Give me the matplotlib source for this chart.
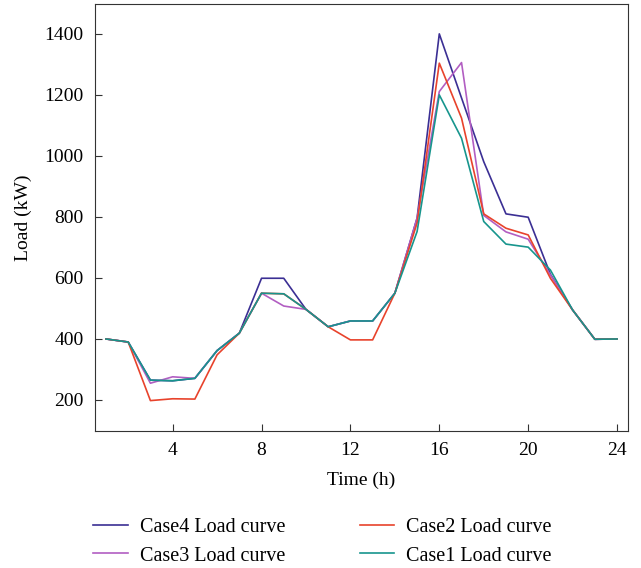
import matplotlib.pyplot as plt

plt.rcParams['font.family'] = ['Liberation Serif', 'DejaVu Serif']

# hours of the day
hours = list(range(1, 25))

# load values (kW)
case4 = [400, 390, 265, 263, 271, 362, 419, 599, 599, 497, 440, 459,
         459, 550, 796, 1400, 1190, 981, 810, 799, 612, 495, 399, 400]
case3 = [400, 390, 255, 276, 271, 362, 419, 550, 508, 497, 440, 459,
         459, 550, 796, 1211, 1306, 805, 751, 727, 610, 495, 399, 400]
case2 = [400, 390, 198, 204, 203, 348, 419, 550, 548, 497, 440, 397,
         397, 550, 780, 1304, 1124, 810, 763, 741, 599, 495, 399, 400]
case1 = [400, 390, 265, 263, 271, 362, 419, 550, 548, 497, 440, 459,
         459, 550, 752, 1200, 1058, 785, 711, 701, 626, 495, 399, 400]

fig = plt.figure(figsize=(6.41, 5.68), dpi=100)
ax = fig.add_axes([0.148, 0.241, 0.832, 0.752])

l4, = ax.plot(hours, case4, color='#3b2f94', lw=1.2, label='Case4 Load curve')
l3, = ax.plot(hours, case3, color='#b25ec2', lw=1.2, label='Case3 Load curve')
l2, = ax.plot(hours, case2, color='#e8432c', lw=1.2, label='Case2 Load curve')
l1, = ax.plot(hours, case1, color='#17958d', lw=1.2, label='Case1 Load curve')

ax.set_xlim(0.5, 24.5)
ax.set_ylim(98, 1498)
ax.set_xticks([4, 8, 12, 16, 20, 24])
ax.set_yticks([200, 400, 600, 800, 1000, 1200, 1400])
ax.tick_params(direction='in', labelsize=14, length=5, pad=8, color='#333333')
for s in ax.spines.values():
    s.set_color('#333333')
ax.set_xlabel('Time (h)', fontsize=14, labelpad=9)
ax.set_ylabel('Load (kW)', fontsize=14, labelpad=9)

fig.legend([l4, l3, l2, l1], [l.get_label() for l in [l4, l3, l2, l1]],
           ncol=2, loc='center', bbox_to_anchor=(0.503, 0.046),
           borderaxespad=0, frameon=False, fontsize=14.5, handlelength=1.7,
           handletextpad=0.6, columnspacing=3.7, labelspacing=0.45)

fig.savefig('out.png', dpi=100)
